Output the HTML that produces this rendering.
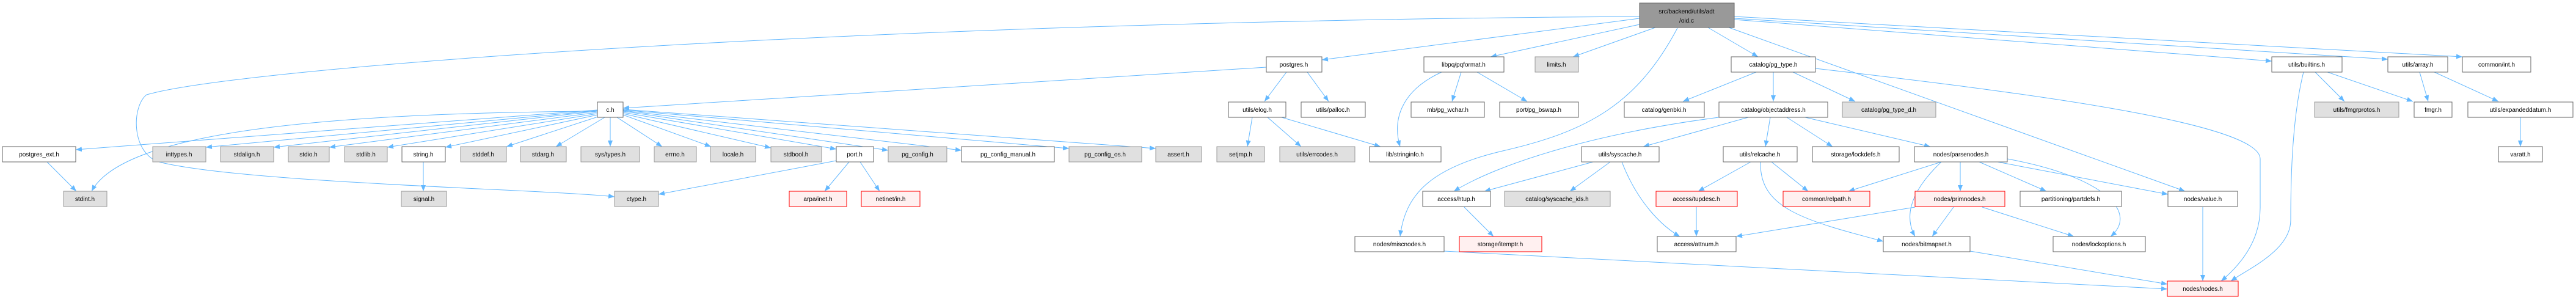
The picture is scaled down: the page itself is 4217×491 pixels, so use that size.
<!DOCTYPE html>
<html><head><meta charset="utf-8"><style>
html,body{margin:0;padding:0;background:#fff;}
svg{display:block;}
text{font-family:"Liberation Sans",sans-serif;font-size:10px;fill:#000;}
.w{fill:#fff;stroke:#666;stroke-width:1;}
.g{fill:#e0e0e0;stroke:#999;stroke-width:1;}
.r{fill:#fff0f0;stroke:#f00;stroke-width:1;}
.e path,.e line{stroke:#63b8ff;stroke-width:1;fill:none;marker-end:url(#a);}
</style></head><body>
<svg width="4217" height="491" viewBox="0 0 4217 491" xmlns="http://www.w3.org/2000/svg">
<defs><marker id="a" markerUnits="userSpaceOnUse" markerWidth="11" markerHeight="8" refX="10" refY="4" orient="auto"><path d="M0,0 L10,4 L0,8 z" fill="#63b8ff"/></marker></defs>
<g class="e">
<line x1="2684" y1="30" x2="2164" y2="98"/>
<line x1="2684" y1="40" x2="2440" y2="93"/>
<line x1="2710" y1="45" x2="2575" y2="93"/>
<path d="M2746,46 C2680,170 2600,215 2460,247 C2340,275 2300,320 2292,387"/>
<line x1="2796" y1="45" x2="2878" y2="93"/>
<line x1="2830" y1="45" x2="3577" y2="313"/>
<line x1="2839" y1="32" x2="3719" y2="100"/>
<line x1="2839" y1="30" x2="3909" y2="97"/>
<line x1="2839" y1="27" x2="4031" y2="93"/>
<path d="M2684,27 C1400,35 400,110 240,155 C215,175 215,250 260,265 C400,300 900,310 1006,322"/>
<line x1="2073" y1="110" x2="1020" y2="177"/>
<line x1="2106" y1="118" x2="2070" y2="166"/>
<line x1="2140" y1="118" x2="2175" y2="166"/>
<line x1="2050" y1="192" x2="2042" y2="240"/>
<line x1="2075" y1="192" x2="2130" y2="240"/>
<line x1="2098" y1="192" x2="2260" y2="240"/>
<path d="M2360,118 C2290,150 2280,200 2292,240"/>
<line x1="2392" y1="118" x2="2377" y2="166"/>
<line x1="2418" y1="118" x2="2500" y2="166"/>
<line x1="2875" y1="118" x2="2755" y2="166"/>
<line x1="2903" y1="118" x2="2903" y2="166"/>
<line x1="2935" y1="118" x2="3037" y2="166"/>
<path d="M2972,112 C3300,150 3700,200 3700,260 L3700,340 C3700,400 3660,440 3636,460"/>
<path d="M2814,192 C2600,220 2450,270 2380,313"/>
<line x1="2862" y1="192" x2="2690" y2="240"/>
<line x1="2898" y1="192" x2="2890" y2="240"/>
<line x1="2925" y1="192" x2="3000" y2="240"/>
<line x1="2955" y1="192" x2="3160" y2="240"/>
<line x1="2608" y1="265" x2="2430" y2="313"/>
<line x1="2636" y1="265" x2="2570" y2="313"/>
<path d="M2655,265 C2680,330 2720,370 2750,387"/>
<line x1="2866" y1="265" x2="2780" y2="313"/>
<line x1="2900" y1="265" x2="2960" y2="313"/>
<path d="M2882,265 C2880,340 2950,360 3083,395"/>
<line x1="2777" y1="339" x2="2777" y2="387"/>
<line x1="2397" y1="339" x2="2445" y2="387"/>
<line x1="2364" y1="411" x2="3548" y2="473"/>
<line x1="3178" y1="265" x2="3026" y2="313"/>
<line x1="3209" y1="265" x2="3209" y2="313"/>
<line x1="3240" y1="265" x2="3350" y2="313"/>
<line x1="3270" y1="265" x2="3549" y2="318"/>
<path d="M3178,265 C3120,320 3120,360 3135,387"/>
<path d="M3286,260 C3450,290 3500,350 3455,387"/>
<line x1="3135" y1="339" x2="2842" y2="387"/>
<line x1="3198" y1="339" x2="3163" y2="387"/>
<line x1="3245" y1="339" x2="3395" y2="387"/>
<line x1="3606" y1="339" x2="3606" y2="460"/>
<line x1="3225" y1="411" x2="3548" y2="465"/>
<line x1="3790" y1="118" x2="3838" y2="166"/>
<line x1="3810" y1="118" x2="3950" y2="166"/>
<path d="M3771,118 C3750,200 3750,320 3750,360 C3750,410 3680,440 3652,460"/>
<line x1="3961" y1="118" x2="3975" y2="166"/>
<line x1="3985" y1="118" x2="4090" y2="166"/>
<line x1="4126" y1="192" x2="4126" y2="240"/>
<line x1="1369" y1="263" x2="1078" y2="318"/>
<line x1="1390" y1="265" x2="1350" y2="313"/>
<line x1="1408" y1="265" x2="1440" y2="313"/>
<line x1="693" y1="265" x2="693" y2="313"/>
<line x1="77" y1="265" x2="125" y2="313"/>
<path d="M978,182 C500,185 200,220 150,313"/>
<line x1="978" y1="180" x2="124" y2="245"/>
<line x1="978" y1="181" x2="337" y2="241"/>
<line x1="978" y1="182" x2="448" y2="241"/>
<line x1="978" y1="184" x2="539" y2="241"/>
<line x1="978" y1="186" x2="634" y2="241"/>
<line x1="978" y1="188" x2="729" y2="241"/>
<line x1="982" y1="190" x2="829" y2="240"/>
<line x1="990" y1="192" x2="910" y2="240"/>
<line x1="999" y1="192" x2="999" y2="240"/>
<line x1="1010" y1="192" x2="1084" y2="240"/>
<line x1="1020" y1="188" x2="1164" y2="240"/>
<line x1="1020" y1="186" x2="1262" y2="242"/>
<line x1="1020" y1="184" x2="1369" y2="244"/>
<line x1="1020" y1="182" x2="1454" y2="246"/>
<line x1="1020" y1="181" x2="1574" y2="246"/>
<line x1="1020" y1="180" x2="1750" y2="243"/>
<line x1="1020" y1="179" x2="1892" y2="243"/>
</g>
<g text-anchor="middle">
<rect x="2684" y="5" width="155" height="40" fill="#999" stroke="#666"/>
<text x="2761" y="22">src/backend/utils/adt</text><text x="2761" y="37">/oid.c</text>
<rect class="w" x="2073" y="93" width="91" height="25"/><text x="2118" y="109">postgres.h</text>
<rect class="w" x="2331" y="93" width="131" height="25"/><text x="2396" y="109">libpq/pqformat.h</text>
<rect class="g" x="2513" y="93" width="71" height="25"/><text x="2548" y="109">limits.h</text>
<rect class="w" x="2834" y="93" width="138" height="25"/><text x="2903" y="109">catalog/pg_type.h</text>
<rect class="w" x="3719" y="93" width="115" height="25"/><text x="3776" y="109">utils/builtins.h</text>
<rect class="w" x="3909" y="93" width="98" height="25"/><text x="3958" y="109">utils/array.h</text>
<rect class="w" x="4031" y="93" width="112" height="25"/><text x="4087" y="109">common/int.h</text>

<rect class="w" x="978" y="167" width="42" height="25"/><text x="999" y="183">c.h</text>
<rect class="w" x="2011" y="167" width="94" height="25"/><text x="2058" y="183">utils/elog.h</text>
<rect class="w" x="2130" y="167" width="105" height="25"/><text x="2182" y="183">utils/palloc.h</text>
<rect class="w" x="2310" y="167" width="120" height="25"/><text x="2370" y="183">mb/pg_wchar.h</text>
<rect class="w" x="2455" y="167" width="129" height="25"/><text x="2519" y="183">port/pg_bswap.h</text>
<rect class="w" x="2659" y="167" width="131" height="25"/><text x="2724" y="183">catalog/genbki.h</text>
<rect class="w" x="2814" y="167" width="178" height="25"/><text x="2903" y="183">catalog/objectaddress.h</text>
<rect class="g" x="3016" y="167" width="153" height="25"/><text x="3092" y="183">catalog/pg_type_d.h</text>
<rect class="g" x="3789" y="167" width="138" height="25"/><text x="3858" y="183">utils/fmgrprotos.h</text>
<rect class="w" x="3952" y="167" width="62" height="25"/><text x="3983" y="183">fmgr.h</text>
<rect class="w" x="4040" y="167" width="172" height="25"/><text x="4126" y="183">utils/expandeddatum.h</text>

<rect class="w" x="4" y="240" width="120" height="25"/><text x="64" y="256">postgres_ext.h</text>
<rect class="g" x="250" y="240" width="87" height="25"/><text x="293" y="256">inttypes.h</text>
<rect class="g" x="361" y="240" width="87" height="25"/><text x="404" y="256">stdalign.h</text>
<rect class="g" x="472" y="240" width="67" height="25"/><text x="505" y="256">stdio.h</text>
<rect class="g" x="564" y="240" width="70" height="25"/><text x="599" y="256">stdlib.h</text>
<rect class="w" x="658" y="240" width="71" height="25"/><text x="693" y="256">string.h</text>
<rect class="g" x="754" y="240" width="75" height="25"/><text x="791" y="256">stddef.h</text>
<rect class="g" x="852" y="240" width="75" height="25"/><text x="889" y="256">stdarg.h</text>
<rect class="g" x="951" y="240" width="96" height="25"/><text x="999" y="256">sys/types.h</text>
<rect class="g" x="1071" y="240" width="69" height="25"/><text x="1105" y="256">errno.h</text>
<rect class="g" x="1163" y="240" width="74" height="25"/><text x="1200" y="256">locale.h</text>
<rect class="g" x="1262" y="240" width="83" height="25"/><text x="1303" y="256">stdbool.h</text>
<rect class="w" x="1369" y="240" width="61" height="25"/><text x="1399" y="256">port.h</text>
<rect class="g" x="1454" y="240" width="96" height="25"/><text x="1502" y="256">pg_config.h</text>
<rect class="w" x="1574" y="240" width="152" height="25"/><text x="1650" y="256">pg_config_manual.h</text>
<rect class="g" x="1750" y="240" width="119" height="25"/><text x="1809" y="256">pg_config_os.h</text>
<rect class="g" x="1892" y="240" width="75" height="25"/><text x="1929" y="256">assert.h</text>
<rect class="g" x="1992" y="240" width="78" height="25"/><text x="2031" y="256">setjmp.h</text>
<rect class="g" x="2095" y="240" width="123" height="25"/><text x="2156" y="256">utils/errcodes.h</text>
<rect class="w" x="2242" y="240" width="117" height="25"/><text x="2300" y="256">lib/stringinfo.h</text>
<rect class="w" x="2589" y="240" width="127" height="25"/><text x="2652" y="256">utils/syscache.h</text>
<rect class="w" x="2821" y="240" width="121" height="25"/><text x="2881" y="256">utils/relcache.h</text>
<rect class="w" x="2967" y="240" width="142" height="25"/><text x="3038" y="256">storage/lockdefs.h</text>
<rect class="w" x="3134" y="240" width="152" height="25"/><text x="3210" y="256">nodes/parsenodes.h</text>
<rect class="w" x="4090" y="240" width="72" height="25"/><text x="4126" y="256">varatt.h</text>

<rect class="g" x="104" y="313" width="71" height="25"/><text x="139" y="329">stdint.h</text>
<rect class="g" x="657" y="313" width="74" height="25"/><text x="694" y="329">signal.h</text>
<rect class="g" x="1006" y="313" width="72" height="25"/><text x="1042" y="329">ctype.h</text>
<rect class="r" x="1292" y="313" width="94" height="25"/><text x="1339" y="329">arpa/inet.h</text>
<rect class="r" x="1410" y="313" width="96" height="25"/><text x="1458" y="329">netinet/in.h</text>
<rect class="w" x="2329" y="313" width="111" height="25"/><text x="2384" y="329">access/htup.h</text>
<rect class="g" x="2463" y="313" width="173" height="25"/><text x="2549" y="329">catalog/syscache_ids.h</text>
<rect class="r" x="2711" y="313" width="133" height="25"/><text x="2777" y="329">access/tupdesc.h</text>
<rect class="r" x="2919" y="313" width="142" height="25"/><text x="2990" y="329">common/relpath.h</text>
<rect class="r" x="3135" y="313" width="147" height="25"/><text x="3208" y="329">nodes/primnodes.h</text>
<rect class="w" x="3307" y="313" width="166" height="25"/><text x="3390" y="329">partitioning/partdefs.h</text>
<rect class="w" x="3549" y="313" width="114" height="25"/><text x="3606" y="329">nodes/value.h</text>

<rect class="w" x="2218" y="387" width="146" height="25"/><text x="2291" y="403">nodes/miscnodes.h</text>
<rect class="r" x="2389" y="387" width="135" height="25"/><text x="2456" y="403">storage/itemptr.h</text>
<rect class="w" x="2713" y="387" width="129" height="25"/><text x="2777" y="403">access/attnum.h</text>
<rect class="w" x="3083" y="387" width="142" height="25"/><text x="3154" y="403">nodes/bitmapset.h</text>
<rect class="w" x="3361" y="387" width="151" height="25"/><text x="3436" y="403">nodes/lockoptions.h</text>

<rect class="r" x="3548" y="460" width="116" height="25"/><text x="3606" y="476">nodes/nodes.h</text>
</g>
</svg>
</body></html>
